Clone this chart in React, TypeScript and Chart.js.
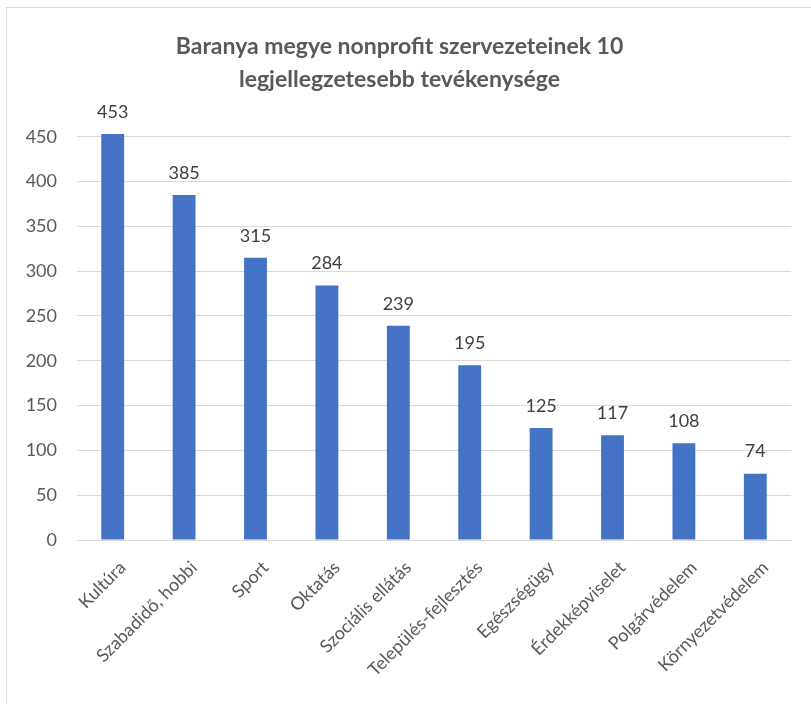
import React, { useEffect, useRef } from "react";
import { Chart, registerables } from "chart.js";

Chart.register(...registerables);

const categories = [
  "Kultúra",
  "Szabadidő, hobbi",
  "Sport",
  "Oktatás",
  "Szociális ellátás",
  "Település-fejlesztés",
  "Egészségügy",
  "Érdekképviselet",
  "Polgárvédelem",
  "Környezetvédelem",
];
const values = [453, 385, 315, 284, 239, 195, 125, 117, 108, 74];
const titleLines = ["Baranya megye nonprofit szervezeteinek 10", "legjellegzetesebb tevékenysége"];

const FONT = "Lato, 'Open Sans', sans-serif";

const valueLabels = {
  id: "valueLabels",
  afterDatasetsDraw(chart: any) {
    const ctx = chart.ctx;
    const meta = chart.getDatasetMeta(0);
    ctx.save();
    ctx.font = `18px ${FONT}`;
    ctx.fillStyle = "#404040";
    ctx.textAlign = "center";
    ctx.textBaseline = "bottom";
    meta.data.forEach((bar: any, i: number) => {
      ctx.fillText(String(chart.data.datasets[0].data[i]), bar.x, bar.y - 13);
    });
    ctx.restore();
  },
};

export default function App() {
  const ref = useRef<HTMLCanvasElement | null>(null);
  useEffect(() => {
    if (!ref.current) return;
    const chart = new Chart(ref.current, {
      type: "bar",
      data: {
        labels: categories,
        datasets: [
          {
            data: values,
            backgroundColor: "#4472C4",
            barPercentage: 0.32,
            categoryPercentage: 1,
            clip: false as any,
          },
        ],
      },
      options: {
        animation: false,
        responsive: false,
        maintainAspectRatio: false,
        layout: { padding: { left: 8, right: 20, top: 0, bottom: 0 } },
        plugins: {
          legend: { display: false },
          tooltip: { enabled: false },
          title: {
            display: true,
            text: titleLines,
            color: "#595959",
            font: { family: FONT, size: 23, weight: "bold", lineHeight: 1.45 },
            padding: { top: 30, bottom: 40 },
          },
        },
        scales: {
          x: {
            grid: { display: false },
            border: { display: true, color: "#d9d9d9" },
            ticks: {
              color: "#595959",
              font: { family: FONT, size: 18 },
              maxRotation: 45,
              minRotation: 45,
              autoSkip: false,
              padding: 9,
              labelOffset: 10,
            },
            afterFit(scale: any) {
              scale.height = 164;
            },
          },
          y: {
            min: 0,
            max: 450,
            grid: { color: "#d9d9d9", drawTicks: false },
            border: { display: false },
            ticks: {
              stepSize: 50,
              color: "#595959",
              font: { family: FONT, size: 18 },
              padding: 20,
            },
            afterFit(scale: any) {
              scale.width = 69;
            },
          },
        },
      },
      plugins: [valueLabels],
    });
    return () => chart.destroy();
  }, []);
  return (
    <div style={{ position: "absolute", left: 0, top: 0, width: 811, height: 704, background: "#fff" }}>
      <div
        style={{
          position: "absolute",
          left: 6,
          top: 7,
          width: 820,
          height: 720,
          borderLeft: "1px solid #d9d9d9",
          borderTop: "1px solid #d9d9d9",
        }}
      />
      <canvas ref={ref} width={811} height={704} style={{ position: "absolute", left: 0, top: 0 }} />
    </div>
  );
}
